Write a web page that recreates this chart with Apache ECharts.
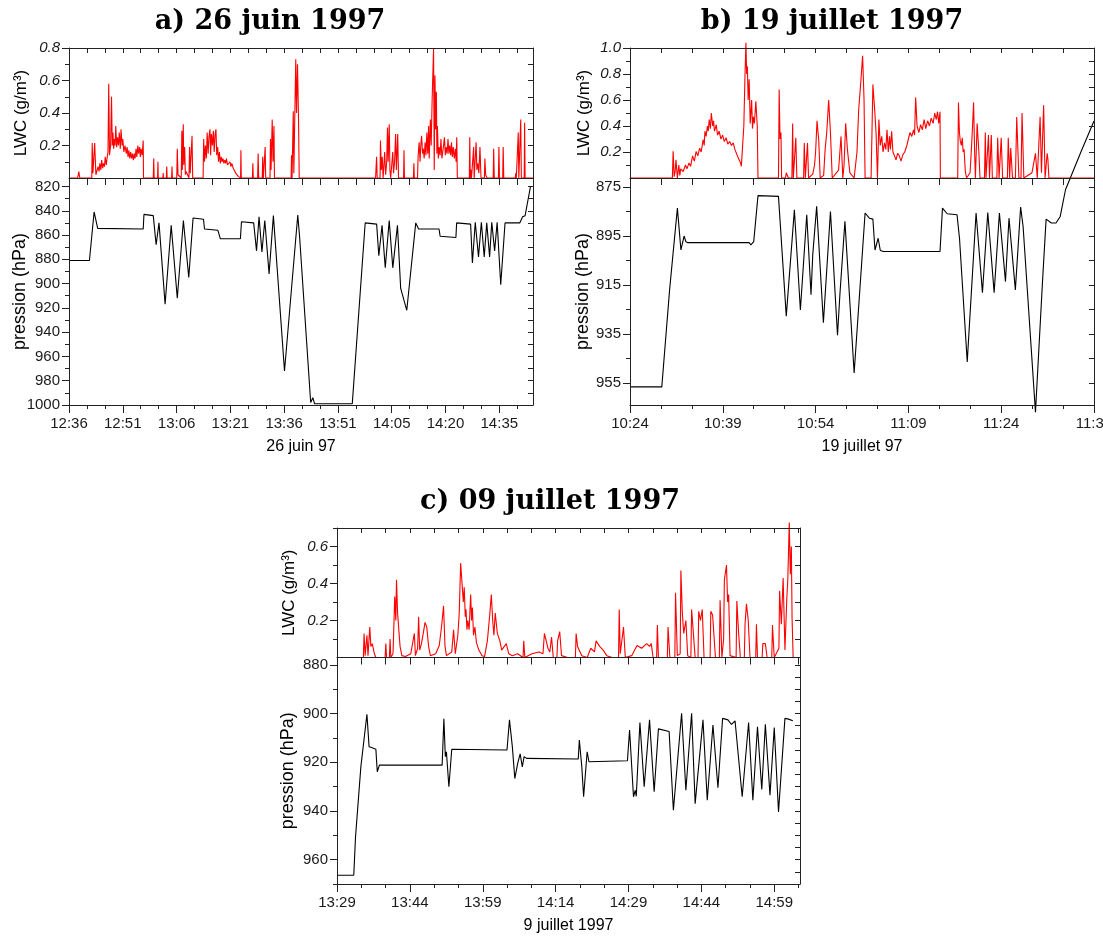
<!DOCTYPE html>
<html><head><meta charset="utf-8">
<script src="https://cdn.jsdelivr.net/npm/echarts@6.0.0/dist/echarts.min.js"></script>
<style>html,body{margin:0;padding:0;background:#fff}#chart{width:1103px;height:937px}</style>
</head><body><div id="chart"></div>
<script>
// ---------------- DATA (time in minutes from the first tick) ----------------
const timeLabelsA = ['12:36','12:51','13:06','13:21','13:36','13:51','14:05','14:20','14:35'];
const timeLabelsB = ['10:24','10:39','10:54','11:09','11:24','11:39'];
const timeLabelsC = ['13:29','13:44','13:59','14:14','14:29','14:44','14:59'];
const presTicksA = [820,840,860,880,900,920,940,960,980,1000];
const presTicksB = [875,895,915,935,955];
const presTicksC = [880,900,920,940,960];
const lwcTicksA = [0.2,0.4,0.6,0.8];
const lwcTicksB = [0.2,0.4,0.6,0.8,1.0];
const lwcTicksC = [0.2,0.4,0.6];

const lwcA = [[0,0],[2.4,0],[2.75,0.04],[3.0,0],[6.35,0],[6.47,0.215],[6.67,0.03],[7.16,0.215],[7.5,0.02],[8.1,0.07],[8.4,0.04],[8.6,0.09],[8.9,0.05],[9.1,0.11],[9.4,0.06],[9.6,0.09],[9.9,0.07],[10.1,0.13],[10.4,0.08],[10.6,0.12],[10.88,0.16],[11.08,0.58],[11.3,0.14],[11.6,0.2],[11.86,0.5],[12.06,0.2],[12.25,0.28],[12.45,0.18],[12.65,0.24],[12.85,0.2],[13.04,0.32],[13.3,0.19],[13.53,0.25],[13.8,0.2],[14.02,0.28],[14.3,0.18],[14.51,0.3],[14.8,0.2],[15.0,0.24],[15.3,0.16],[15.6,0.2],[15.98,0.15],[16.2,0.19],[16.47,0.13],[16.7,0.17],[16.96,0.12],[17.2,0.16],[17.45,0.12],[17.7,0.15],[17.94,0.11],[18.2,0.15],[18.43,0.12],[18.7,0.18],[18.92,0.13],[19.2,0.2],[19.41,0.15],[19.7,0.19],[19.9,0.13],[20.1,0.18],[20.4,0.14],[20.69,0.23],[20.78,0],
[23.5,0],[23.63,0.12],[23.75,0],[24.7,0],[24.8,0.1],[24.9,0],[26.2,0],[26.27,0.03],[26.35,0],[27.15,0],[27.26,0.07],[27.36,0],[28.62,0],[28.73,0.07],[28.83,0],[30.05,0],[30.2,0.18],[30.4,0.02],[31.3,0],[31.47,0.29],[31.6,0.05],[31.86,0.33],[32.0,0.08],[32.26,0.19],[32.45,0.02],[32.65,0.04],[33.45,0],[33.63,0.19],[33.8,0.03],[34.0,0.12],[34.31,0.26],[34.5,0],
[37.4,0],[37.55,0.24],[37.8,0.1],[38.04,0.2],[38.3,0.12],[38.53,0.28],[38.8,0.15],[39.02,0.25],[39.31,0.3],[39.5,0.14],[39.7,0.27],[40.0,0.2],[40.25,0.29],[40.49,0.16],[40.75,0.27],[40.98,0.3],[41.2,0.14],[41.47,0.19],[41.7,0.1],[41.96,0.16],[42.2,0.09],[42.45,0.13],[42.7,0.1],[42.94,0.12],[43.2,0.09],[43.43,0.11],[43.7,0.09],[43.92,0.12],[44.2,0.08],[44.41,0.09],[44.7,0.07],[44.9,0.1],[45.15,0.07],[45.39,0.09],[45.8,0.06],[46.18,0.07],[46.5,0.03],[46.86,0.03],[47.2,0.01],[47.55,0],[47.85,0],[47.94,0.17],[48.05,0],
[51.15,0],[51.27,0.09],[51.4,0],[52.6,0],[52.75,0.15],[52.9,0],[53.9,0],[54.02,0.13],[54.2,0],[54.55,0],[54.7,0.19],[54.85,0],[56.05,0],[56.18,0.24],[56.35,0.05],[56.67,0.36],[56.9,0.1],[57.16,0.32],[57.3,0],
[61.95,0],[62.06,0.14],[62.2,0],[62.45,0],[62.55,0.41],[62.7,0.03],[62.84,0.03],[63.24,0.73],[63.45,0.4],[63.73,0.7],[64.02,0.35],[64.2,0],
[85.5,0],[85.78,0.13],[85.95,0],[86.75,0],[86.86,0.23],[87.1,0.05],[87.35,0.13],[87.6,0],[87.9,0],[88.04,0.16],[88.3,0.02],[88.6,0.1],[88.82,0.31],[89.0,0.1],[89.31,0.33],[89.5,0.05],[89.71,0],[90.15,0],[90.29,0.16],[90.5,0.03],[90.8,0.1],[91.08,0.27],[91.3,0.05],[91.67,0.27],[91.9,0],
[93.3,0],[93.43,0.17],[93.55,0],[96.05,0],[96.18,0.09],[96.3,0],[97.2,0],[97.35,0.13],[97.65,0.22],[97.9,0.1],[98.1,0.2],[98.33,0.26],[98.6,0.15],[98.82,0.18],[99.05,0.12],[99.31,0.22],[99.55,0.14],[99.8,0.28],[100.05,0.15],[100.29,0.32],[100.45,0.12],[100.59,0.12],[100.78,0.36],[101.0,0.2],[101.27,0.48],[101.67,0.8],[101.86,0.05],[102.06,0.63],[102.25,0.3],[102.45,0.53],[102.6,0.15],[102.75,0.32],[103.0,0.12],[103.24,0.19],[103.5,0.14],[103.73,0.24],[104.0,0.12],[104.22,0.16],[104.45,0.2],[104.71,0.25],[104.95,0.14],[105.2,0.19],[105.45,0.15],[105.69,0.24],[105.95,0.15],[106.18,0.2],[106.45,0.14],[106.67,0.22],[106.9,0.13],[107.16,0.19],[107.45,0.12],[107.75,0.18],[107.95,0.1],[108.14,0.25],[108.3,0],
[111.65,0],[111.76,0.25],[111.9,0],[112.1,0.05],[112.25,0],[112.7,0],[112.84,0.19],[113.0,0],[113.4,0],[113.53,0.22],[113.75,0.05],[114.02,0.09],[114.3,0.03],[114.61,0.19],[114.9,0],[115.85,0],[115.98,0.12],[116.2,0.02],[116.57,0],[118.3,0],[118.43,0.18],[118.6,0],[119.75,0],[119.9,0.19],[120.05,0],[120.95,0],[121.08,0.19],[121.25,0],
[124.45,0],[124.61,0.03],[124.75,0],[125.15,0],[125.29,0.28],[125.45,0],[125.85,0],[125.98,0.36],[126.15,0],[126.95,0],[127.06,0.34],[127.2,0],[129.4,0]];

const presA = [[0,881],[5.7,881],[7.0,841],[8.0,854.5],[8.5,855],[20.7,855],[20.9,843],[23.5,844],[24.3,868],[25.1,850],[26.8,917],[28.5,852],[30.2,912],[31.9,848],[33.4,895],[34.6,846],[37.5,847],[37.8,855],[41.5,856],[42.2,863],[47.8,863],[48.1,849],[51.5,850],[52.3,873],[53.0,845],[53.8,874],[54.6,848],[55.8,892],[57.0,844],[60.1,972],[63.8,843.5],[64.3,861],[67.4,998],[68.0,994],[68.5,999],[79.0,999],[82.6,850],[85.8,851],[86.4,877],[87.3,852],[88.2,887],[89.3,848],[90.3,887],[91.6,852],[92.5,904],[94.2,922],[96.7,850],[97.5,855],[103.2,855],[103.5,861],[107.9,862],[108.1,850],[112.0,851],[112.5,883],[113.3,849.5],[114.2,878],[115.0,849.5],[115.8,878],[116.5,850],[117.3,878],[117.9,849.5],[118.7,873],[119.4,849.5],[120.4,901],[121.6,850],[125.7,850],[126.5,845],[127.2,844],[128.7,820],[129.4,820]];

const lwcB = [[0,0],[6.85,0],[6.97,0.205],[7.14,0.01],[7.3,0.05],[7.43,0.14],[7.66,0],[7.89,0.1],[8.05,0.02],[8.2,0.07],[8.4,0.08],[8.6,0.05],[8.97,0.1],[9.2,0.07],[9.54,0.115],[9.8,0.09],[10.11,0.17],[10.4,0.13],[10.69,0.205],[10.95,0.17],[11.26,0.23],[11.5,0.2],[11.83,0.295],[12.0,0.25],[12.11,0.36],[12.3,0.32],[12.51,0.4],[12.65,0.36],[12.8,0.45],[13.0,0.38],[13.14,0.5],[13.37,0.4],[13.5,0.44],[13.66,0.36],[13.94,0.41],[14.15,0.33],[14.4,0.36],[14.7,0.3],[14.97,0.33],[15.25,0.28],[15.54,0.31],[15.8,0.26],[16.11,0.28],[16.4,0.25],[16.69,0.27],[16.95,0.22],[17.26,0.22],[17.45,0.16],[17.66,0.17],[17.85,0.12],[18.0,0.09],[18.23,0.27],[18.4,0.4],[18.57,0.76],[18.74,1.04],[18.85,0.8],[18.97,0.86],[19.1,0.6],[19.26,0.76],[19.43,0.42],[19.66,0.6],[19.8,0.38],[19.94,0.47],[20.11,0.42],[20.34,0.59],[20.57,0.4],[20.69,0],
[24.0,0],[24.11,0.68],[24.25,0.3],[24.4,0.35],[24.51,0],[25.14,0],[25.26,0.04],[25.6,0],[26.17,0],[26.29,0.42],[26.4,0],[26.69,0],[26.8,0.31],[26.97,0],[28.06,0],[28.17,0.27],[28.34,0],[28.57,0],[28.69,0.27],[28.86,0],[29.54,0.03],[29.83,0.1],[30.0,0.2],[30.23,0.44],[30.51,0.29],[30.74,0],[31.3,0.02],[31.54,0.22],[31.8,0.35],[32.11,0.6],[32.4,0.35],[32.69,0],[33.71,0.06],[34.11,0.32],[34.4,0],[34.6,0.1],[34.86,0.42],[35.14,0.22],[35.54,0.04],[36.23,0],[36.69,0.2],[36.97,0.53],[37.26,0.71],[37.6,0.94],[37.83,0.6],[38.0,0],
[38.97,0],[39.26,0.72],[39.54,0.53],[39.77,0.35],[40.0,0],[40.23,0.45],[40.45,0.25],[40.69,0.32],[40.9,0.2],[41.14,0.27],[41.35,0.22],[41.54,0.37],[41.75,0.2],[41.94,0.32],[42.1,0.22],[42.29,0.36],[42.5,0.2],[42.69,0.19],[43.0,0.14],[43.25,0.19],[43.54,0.17],[43.8,0.13],[44.11,0.18],[44.4,0.2],[44.69,0.24],[45.0,0.3],[45.26,0.35],[45.55,0.32],[45.83,0.37],[46.0,0.33],[46.17,0.62],[46.4,0.4],[46.7,0.35],[46.97,0.41],[47.25,0.37],[47.54,0.45],[47.8,0.38],[48.11,0.44],[48.4,0.4],[48.69,0.46],[49.0,0.42],[49.26,0.5],[49.5,0.45],[49.71,0.51],[49.9,0.42],[50.11,0.51],[50.17,0],
[52.97,0],[53.09,0.58],[53.25,0.35],[53.37,0.29],[53.55,0.25],[53.71,0.31],[53.85,0.2],[54.0,0.22],[54.2,0.05],[54.4,0],[54.97,0.04],[55.26,0.29],[55.54,0.58],[55.7,0.2],[55.83,0],[56.11,0.42],[56.4,0.19],[56.57,0],[57.3,0],[57.43,0.35],[57.54,0],[57.83,0],[57.94,0.33],[58.11,0],[58.3,0],[58.4,0.33],[58.57,0],[59.3,0],[59.43,0.31],[59.66,0],[59.9,0],[60.0,0.31],[60.23,0],[61.0,0],[61.14,0.31],[61.37,0],[61.54,0.23],[61.83,0],[62.3,0],[62.51,0.47],[62.86,0],[63.2,0],[63.37,0.5],[63.66,0],[64.97,0.04],[65.54,0.19],[65.83,0],[66.1,0],[66.29,0.47],[66.51,0.04],[66.86,0.56],[67.09,0],[67.43,0.19],[67.54,0.15],[67.71,0],[75,0]];

const presB = [[0,956.6],[5.14,956.6],[6.4,917],[7.66,883.6],[8.23,900.7],[8.46,900.4],[8.74,895],[9.03,897.3],[9.37,897.7],[19.26,897.7],[19.54,898.6],[20.0,897.3],[20.69,878.5],[24.0,878.8],[25.26,927.7],[26.57,884.3],[27.54,925.2],[28.57,886.3],[29.26,919],[29.54,902.6],[30.17,882.9],[31.26,930.4],[32.4,885],[33.54,935.5],[33.94,918.4],[34.74,889],[36.23,950.9],[38.0,885.6],[38.69,887.7],[39.26,888.1],[39.6,900.7],[40.11,895.9],[40.46,900.9],[40.97,901.3],[50.11,901.3],[50.51,883.6],[51.26,885.9],[52.86,886.3],[53.26,895.9],[54.51,946.4],[55.94,885.6],[56.97,918.1],[57.83,885.4],[58.86,918.1],[59.71,885.6],[60.69,913.6],[61.26,887.7],[62.29,917],[63.14,883.2],[63.54,891.1],[65.54,966.9],[66.69,913],[67.26,888.1],[68.11,889.7],[68.86,889.7],[69.54,887],[70.4,876],[70.97,872.5],[73,860],[75,848]];

const lwcC = [[0,0],[5.43,0],[5.57,0.13],[5.79,0.01],[6.16,0.12],[6.38,0.01],[6.75,0.165],[6.97,0.06],[7.26,0.075],[7.7,0.02],[8.0,0],
[9.9,0],[10.05,0.075],[10.2,0],[10.78,0],[10.93,0.1],[11.08,0],[11.52,0.02],[11.66,0.13],[11.88,0.33],[12.1,0.2],[12.25,0.42],[12.47,0.24],[12.76,0.25],[12.98,0.06],[13.35,0.01],[14.08,0.005],[15.18,0.02],[15.92,0.13],[16.14,0.01],[16.6,0.05],[16.8,0.22],[17.02,0.04],[17.38,0.075],[17.75,0.13],[18.12,0.19],[18.48,0.165],[18.85,0.06],[19.22,0.01],[20.32,0.02],[21.05,0.065],[21.57,0.18],[21.93,0.28],[22.23,0.06],[22.52,0.01],[23.62,0.03],[23.99,0.15],[24.35,0.02],[24.87,0.12],[25.16,0.24],[25.45,0.51],[25.82,0.51],[26.0,0.3],[26.19,0.38],[26.4,0.22],[26.55,0.26],[26.75,0.15],[26.92,0.2],[27.2,0.15],[27.51,0.34],[27.7,0.2],[27.87,0.27],[28.1,0.12],[28.39,0.165],[28.7,0.08],[28.97,0.09],[29.2,0.04],[29.49,0.04],[29.85,0.01],[30.37,0.005],[30.95,0.09],[31.2,0.1],[31.47,0.24],[31.76,0.34],[32.05,0.2],[32.3,0.12],[32.57,0.24],[33.01,0.13],[33.52,0.09],[33.9,0.04],[34.26,0.05],[34.84,0.075],[35.36,0.02],[36.09,0.01],[37.19,0.02],[38.29,0],[38.44,0.09],[38.66,0],[40.12,0.02],[41.59,0.03],[42.4,0.02],[42.69,0.13],[43.06,0.09],[43.42,0.05],[43.8,0.03],[44.16,0.11],[44.52,0],[45.26,0],[45.41,0.09],[45.84,0.14],[46.21,0.01],[47.46,0],[49.07,0],[49.22,0.13],[49.51,0.06],[50.39,0.01],[51.5,0],[52.23,0.05],[53.0,0.03],[53.33,0.09],[53.69,0.1],[54.06,0.06],[54.79,0.04],[55.53,0.01],[56.63,0],[57.95,0],[58.09,0.26],[58.3,0.02],[58.46,0.01],[58.97,0.165],[59.34,0],[60.66,0.01],[61.76,0.065],[62.71,0.05],[63.74,0.075],[64.33,0.06],[64.69,0.075],[65.06,0],[65.79,0],[65.94,0.175],[66.16,0],[67.99,0],[68.14,0.165],[68.51,0],[69.54,0],[69.68,0.35],[70.05,0.01],[70.64,0.02],[70.78,0.47],[71.08,0.24],[71.37,0.13],[71.81,0.2],[72.18,0.01],[72.84,0],[72.99,0.26],[73.35,0.27],[73.72,0],[74.31,0],[74.45,0.25],[74.82,0.2],[75.18,0.26],[75.55,0],[76.8,0],[76.94,0.25],[77.31,0.23],[77.9,0],[78.7,0],[78.85,0.31],[79.22,0],[79.58,0.1],[79.73,0.42],[80.17,0.5],[80.4,0.3],[80.61,0.34],[80.91,0.01],[82.15,0],[82.3,0.305],[82.67,0.13],[83.03,0],[83.84,0],[83.99,0.18],[84.28,0.29],[84.65,0.2],[85.01,0],[86.19,0],[86.33,0.18],[86.55,0],[87.51,0],[87.65,0.075],[88.17,0.075],[88.53,0],[89.49,0],[89.63,0.175],[90.0,0],[90.96,0.05],[91.1,0.36],[91.46,0.18],[91.83,0.43],[92.2,0.04],[92.57,0.31],[92.79,0.42],[93.09,0.73],[93.31,0.45],[93.52,0.6],[93.67,0.21],[93.89,0],[95.3,0]];

const presC = [[0,966.4],[3.45,966.4],[3.81,950.7],[4.91,921.9],[6.16,900.3],[6.6,913.6],[7.11,914],[8.0,914.7],[8.29,923.9],[8.73,921.2],[21.64,921.2],[22.0,902.2],[22.3,917.7],[22.52,915.7],[23.03,930.1],[23.62,914.7],[34.99,915],[35.5,902.6],[36.09,913.6],[36.6,926.7],[37.19,920.5],[37.7,916.6],[38.14,921.9],[38.51,917.7],[39.02,918.4],[49.66,918.7],[49.88,910.9],[50.39,921.9],[50.76,934.2],[51.49,915.7],[51.86,919.8],[59.78,919.4],[60.22,906.8],[61.03,934.2],[61.39,931.5],[61.6,934],[62.35,903.7],[63.23,930.1],[64.33,902.6],[65.28,932.1],[66.16,906.3],[66.53,906.7],[68.36,907.4],[69.24,939.7],[70.93,899.9],[71.81,931.5],[72.99,899.9],[73.72,937],[75.33,902.6],[76.21,935.6],[77.38,904.7],[78.41,930.5],[79.37,902],[80.47,902.6],[81.2,904.5],[81.93,903],[82.3,903],[83.4,934.2],[84.72,903.7],[85.6,935.6],[86.55,905.4],[87.43,931.2],[88.17,904.4],[89.12,933.5],[90.0,905.8],[90.88,940.4],[92.2,902],[92.94,902.3],[93.82,903]];

// ---------------- CHART ----------------
const AX = '#222';
const FONT = '"Liberation Sans", Arial, sans-serif';
const grids = [], xAxes = [], yAxes = [], series = [], graphics = [];

function steps(a, b, s) { const r = []; for (let v = a; v <= b + 1e-9; v += s) r.push(Math.round(v * 1000) / 1000); return r; }

function addX(gi, max, pos, ticks, len, inside, line, labels, texts) {
  xAxes.push({
    type: 'value', gridIndex: gi, min: 0, max: max, position: pos, z: 5,
    axisLine: { show: line, onZero: false, lineStyle: { color: AX, width: 1 } },
    axisTick: { show: true, customValues: ticks, length: len, inside: inside, lineStyle: { color: AX, width: 1 } },
    axisLabel: labels ? { show: true, customValues: labels, formatter: v => texts[Math.round(v / 15)] || '',
      fontFamily: FONT, fontSize: 15, color: '#1a1a1a', margin: 11 } : { show: false },
    splitLine: { show: false }
  });
  return xAxes.length - 1;
}
function addY(gi, min, max, inverse, pos, ticks, len, inside, line, labels, fmt, italic) {
  yAxes.push({
    type: 'value', gridIndex: gi, min: min, max: max, inverse: inverse, position: pos, z: 5,
    axisLine: { show: line, onZero: false, lineStyle: { color: AX, width: 1 } },
    axisTick: { show: true, customValues: ticks, length: len, inside: inside, lineStyle: { color: AX, width: 1 } },
    axisLabel: labels ? { show: true, customValues: labels, formatter: fmt, fontStyle: italic ? 'italic' : 'normal',
      fontFamily: FONT, fontSize: 15, color: '#1a1a1a', margin: 9 } : { show: false },
    splitLine: { show: false }
  });
  return yAxes.length - 1;
}
function text(x, y, str, font, rot) {
  graphics.push({ type: 'text', x: x, y: y, rotation: rot || 0, z: 10,
    style: { text: str, font: font, fill: '#000', textAlign: 'center', textVerticalAlign: 'middle' } });
}

function panel(p) {
  const gL = grids.push({ left: p.left, width: p.width, top: p.top, height: p.split - p.top, containLabel: false, outerBoundsMode: 'none' }) - 1;
  const gP = grids.push({ left: p.left, width: p.width, top: p.split, height: p.bottom - p.split, containLabel: false, outerBoundsMode: 'none' }) - 1;
  const majorT = p.labels.map((_, i) => i * 15);
  const allT = steps(0, p.tMax, 5);
  const minorT = allT.filter(t => t % 15 !== 0);
  // LWC panel
  const xL = addX(gL, p.tMax, 'bottom', allT, 7, false, true);
  addX(gL, p.tMax, 'top', allT, 5, true, true);
  const lwcMinor = p.lwcTicks.map(v => Math.round((v - 0.1) * 10) / 10).concat(p.lwcExtraMinor);
  const yL = addY(gL, 0, p.lwcMax, false, 'left', p.lwcTicks, 7, false, true, p.lwcTicks, v => v.toFixed(1), true);
  addY(gL, 0, p.lwcMax, false, 'left', lwcMinor, 4, false, false);
  addY(gL, 0, p.lwcMax, false, 'right', p.lwcTicks.concat(lwcMinor), 5, true, true);
  // pressure panel
  const xP = addX(gP, p.tMax, 'bottom', majorT, 8, false, true, majorT, p.labels);
  addX(gP, p.tMax, 'bottom', minorT, 4, false, false);
  const yP = addY(gP, p.pMin, p.pMax, true, 'left', p.pTicks, 7, false, true, p.pTicks, v => String(v), false);
  addY(gP, p.pMin, p.pMax, true, 'left', p.pMinor, 4, false, false);
  addY(gP, p.pMin, p.pMax, true, 'right', p.pRight, 5, true, true);

  series.push({ type: 'line', xAxisIndex: xL, yAxisIndex: yL, data: p.lwc, showSymbol: false, symbol: 'none',
    clip: false, z: 2, lineStyle: { color: '#ff0000', width: 1.1 }, animation: false });
  series.push({ type: 'line', xAxisIndex: xP, yAxisIndex: yP, data: p.pres, showSymbol: false, symbol: 'none',
    clip: false, z: 3, lineStyle: { color: '#000', width: 1.1 }, animation: false });

  text(p.titleX, p.titleY, p.title, 'bold 27px "DejaVu Serif", serif');
  text(p.yTitleX, (p.top + p.split) / 2, 'LWC (g/m³)', '17px ' + FONT, Math.PI / 2);
  text(p.yTitleX - 1, (p.split + p.bottom) / 2, 'pression (hPa)', '18px ' + FONT, Math.PI / 2);
  text(p.left + p.width / 2, p.bottom + 42, p.xTitle, '16px ' + FONT);
}

panel({ left: 69, width: 464, top: 48, split: 178, bottom: 405, tMax: 129.4, labels: timeLabelsA,
  lwcMax: 0.8, lwcTicks: lwcTicksA, lwcExtraMinor: [0.7],
  pMin: 813, pMax: 1000, pTicks: presTicksA, pMinor: steps(830, 990, 20), pRight: steps(820, 1000, 10),
  lwc: lwcA, pres: presA, title: 'a) 26 juin 1997', titleX: 270, titleY: 22, yTitleX: 21, xTitle: '26 juin 97' });

panel({ left: 630, width: 464, top: 48, split: 178, bottom: 405, tMax: 75, labels: timeLabelsB,
  lwcMax: 1.0, lwcTicks: lwcTicksB, lwcExtraMinor: [],
  pMin: 871.3, pMax: 964, pTicks: presTicksB, pMinor: [885, 905, 925, 945], pRight: steps(875, 955, 10),
  lwc: lwcB, pres: presB, title: 'b) 19 juillet 1997', titleX: 832, titleY: 22, yTitleX: 584, xTitle: '19 juillet 97' });

panel({ left: 337, width: 463, top: 528, split: 657.5, bottom: 884, tMax: 95.3, labels: timeLabelsC,
  lwcMax: 0.7, lwcTicks: lwcTicksC, lwcExtraMinor: [0.7],
  pMin: 877, pMax: 970, pTicks: presTicksC, pMinor: [890, 910, 930, 950, 970], pRight: steps(880, 970, 5),
  lwc: lwcC, pres: presC, title: 'c) 09 juillet 1997', titleX: 550, titleY: 502, yTitleX: 289, xTitle: '9 juillet 1997' });

const chart = echarts.init(document.getElementById('chart'), null, { renderer: 'canvas' });
chart.setOption({
  backgroundColor: '#fff', animation: false,
  grid: grids, xAxis: xAxes, yAxis: yAxes, series: series, graphic: graphics
});
</script></body></html>
